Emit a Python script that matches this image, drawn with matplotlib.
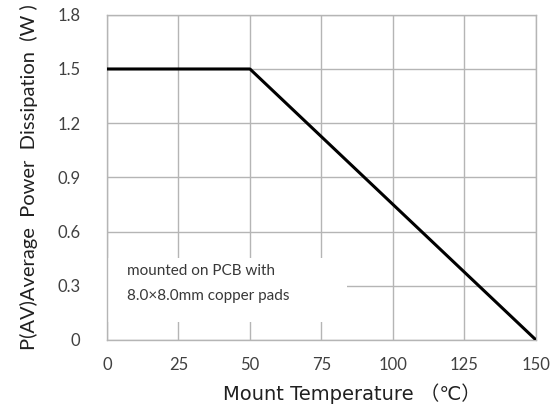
import matplotlib
matplotlib.use("Agg")
import matplotlib.pyplot as plt
from matplotlib.patches import Rectangle

temps = [0, 50, 150]
power = [1.5, 1.5, 0.0]
x_ticks = [0, 25, 50, 75, 100, 125, 150]
y_ticks = [0, 0.3, 0.6, 0.9, 1.2, 1.5, 1.8]
y_tick_labels = ["0", "0.3", "0.6", "0.9", "1.2", "1.5", "1.8"]

plt.rcParams['font.family'] = ['Lato', 'Noto Sans CJK SC', 'DejaVu Sans']

fig = plt.figure(figsize=(5.6, 4.11), dpi=100)
ax = fig.add_axes([0.191, 0.173, 0.766, 0.791])
ax.set_xlim(0, 150)
ax.set_ylim(0, 1.8)
ax.set_xticks(x_ticks)
ax.set_yticks(y_ticks)
ax.set_yticklabels(y_tick_labels)
ax.grid(True, color="#b5b5b5", linewidth=1.0)
ax.set_axisbelow(True)
for s in ax.spines.values():
    s.set_color("#b5b5b5")
    s.set_linewidth(1.0)
ax.tick_params(length=0, labelsize=12, colors="#404040")
ax.tick_params(axis='y', pad=19)
ax.tick_params(axis='x', pad=12)

# white box behind annotation
ax.add_patch(Rectangle((0, 0.10), 84, 0.354, facecolor="white", edgecolor="none", zorder=1.5))
ax.text(7, 0.38, "mounted on PCB with", fontsize=11, color="#383838", va="center", zorder=3)
ax.text(7, 0.245, "8.0\u00d78.0mm copper pads", fontsize=11, color="#383838", va="center", zorder=3)

ax.plot(temps, power, color="black", linewidth=2.2, zorder=4, solid_capstyle="butt")

ax.set_xlabel("Mount Temperature \uff08\u2103\uff09", fontsize=14, color="#202020",
              family=['DejaVu Sans', 'Noto Sans CJK SC'])
ax.xaxis.set_label_coords(0.57, -0.135, transform=ax.transAxes)
ax.set_ylabel("P(AV)Average  Power  Dissipation  (W )", fontsize=14.5, color="#202020", labelpad=14)

fig.savefig("out.png", dpi=100)
